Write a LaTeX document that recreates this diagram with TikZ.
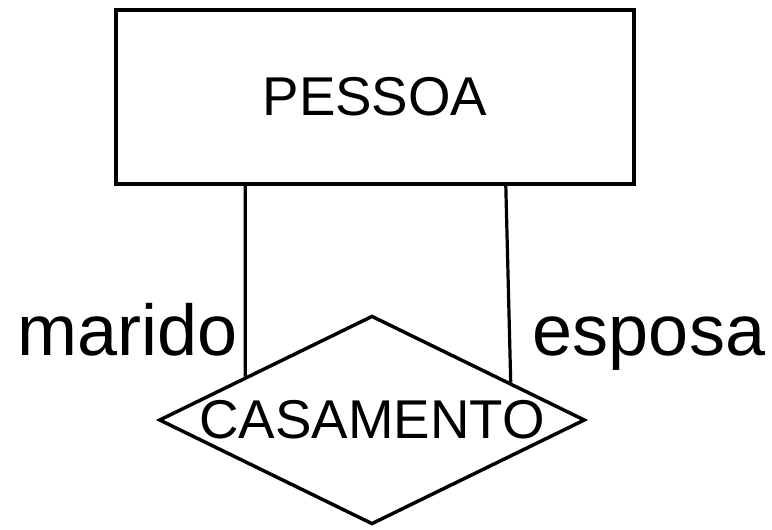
\documentclass[tikz,border=0pt]{standalone}
\usepackage{fontspec}
\setmainfont{Liberation Sans}
\usetikzlibrary{shapes.geometric}
\usetikzlibrary{positioning}
\usetikzlibrary{calc}
\tikzstyle{every node}+=[inner sep=0pt]
\tikzstyle{entity} = [rectangle, draw, line width=2.7pt, font=\fontsize{41}{49}\selectfont, minimum width=388.5pt, minimum height=130.5pt]
\tikzstyle{relation} = [diamond, draw, line width=2.6pt, font=\fontsize{41}{49}\selectfont, aspect=2, text height=27pt, text depth=0pt, minimum width=319.5pt, minimum height=156pt]
\tikzstyle{line} = [draw, line width=2.4pt]
\tikzstyle{role} = [font=\fontsize{54}{64}\selectfont]

\begin{document}
\begin{tikzpicture}[x=0.75pt, y=-0.75pt, node distance=242.25pt]
          \useasboundingbox (0,0) rectangle (772,529);
          % Place nodes
          \node [entity] (pessoa) at (375,97) {PESSOA};
          \node [relation, below of=pessoa, xshift=-2.25pt] (casamento) {CASAMENTO};
          \node [role, anchor=base] (marido) at (128,355) {marido};
          \node [role, anchor=base] (esposa) at (649,355) {esposa};
          % Connector ends
          \coordinate (mtop) at ($(pessoa.south west)+(131,0)$);
          \coordinate (mbot) at ($(casamento.west)!0.41!(casamento.north)$);
          \coordinate (etop) at ($(pessoa.south east)+(-130,0)$);
          \coordinate (ebot) at ($(casamento.north)!0.646!(casamento.east)$);
          % Draw edges
          \path [line] (mtop) -- (mbot);
          \path [line] (etop) -- (ebot);
        \end{tikzpicture}
\end{document}
